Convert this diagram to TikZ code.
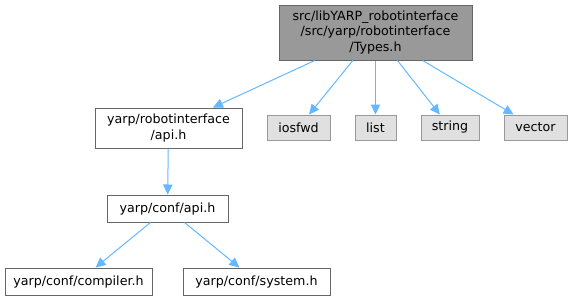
\documentclass[tikz,border=0pt]{standalone}
\usepackage{fontspec}
\setmainfont{DejaVu Sans}
\usetikzlibrary{arrows.meta}
\definecolor{edgeblue}{HTML}{63B8FF}
\definecolor{curfill}{HTML}{999999}
\definecolor{curdraw}{HTML}{666666}
\definecolor{sysfill}{HTML}{E0E0E0}
\definecolor{sysdraw}{HTML}{999999}
\begin{document}
\begin{tikzpicture}[x=0.75pt,y=-0.75pt,
  every node/.style={font=\fontsize{9.5}{11.6}\selectfont, inner sep=0pt, align=center, line width=0.75pt},
  curbox/.style={draw=curdraw, fill=curfill},
  filebox/.style={draw=curdraw, fill=white},
  sysbox/.style={draw=sysdraw, fill=sysfill},
  dep/.style={draw=edgeblue, line width=0.75pt, -{Triangle[length=7.5pt,width=7pt]}}]
\useasboundingbox (0,0) rectangle (573,300);
% the documented header
\node[curbox, minimum width=193*0.75pt, minimum height=55*0.75pt] (types) at (375.5,32.5)
  {src/libYARP\_robotinterface\\/src/yarp/robotinterface\\/Types.h};
% project headers
\node[filebox, minimum width=147*0.75pt, minimum height=40*0.75pt] (rapi) at (168.5,128)
  {yarp/robotinterface\\/api.h};
\node[filebox, minimum width=121*0.75pt, minimum height=27*0.75pt] (capi) at (167.5,208.5)
  {yarp/conf/api.h};
\node[filebox, minimum width=147*0.75pt, minimum height=27*0.75pt] (compiler) at (78.5,281.5)
  {yarp/conf/compiler.h};
\node[filebox, minimum width=147*0.75pt, minimum height=27*0.75pt] (system) at (256.5,281.5)
  {yarp/conf/system.h};
% standard library headers
\node[sysbox, minimum width=63*0.75pt, minimum height=25*0.75pt] (iosfwd) at (298.5,127.5) {iosfwd};
\node[sysbox, minimum width=41*0.75pt, minimum height=25*0.75pt] (list) at (375.5,127.5) {list};
\node[sysbox, minimum width=58*0.75pt, minimum height=25*0.75pt] (string) at (450,127.5) {string};
\node[sysbox, minimum width=63*0.75pt, minimum height=25*0.75pt] (vector) at (535.5,127.5) {vector};
% include relations
\draw[dep] (types) -- (rapi);
\draw[dep] (types) -- (iosfwd);
\draw[dep] (types) -- (list);
\draw[dep] (types) -- (string);
\draw[dep] (types) -- (vector);
\draw[dep] (rapi) -- (capi);
\draw[dep] (capi) -- (compiler);
\draw[dep] (capi) -- (system);
\end{tikzpicture}
\end{document}
